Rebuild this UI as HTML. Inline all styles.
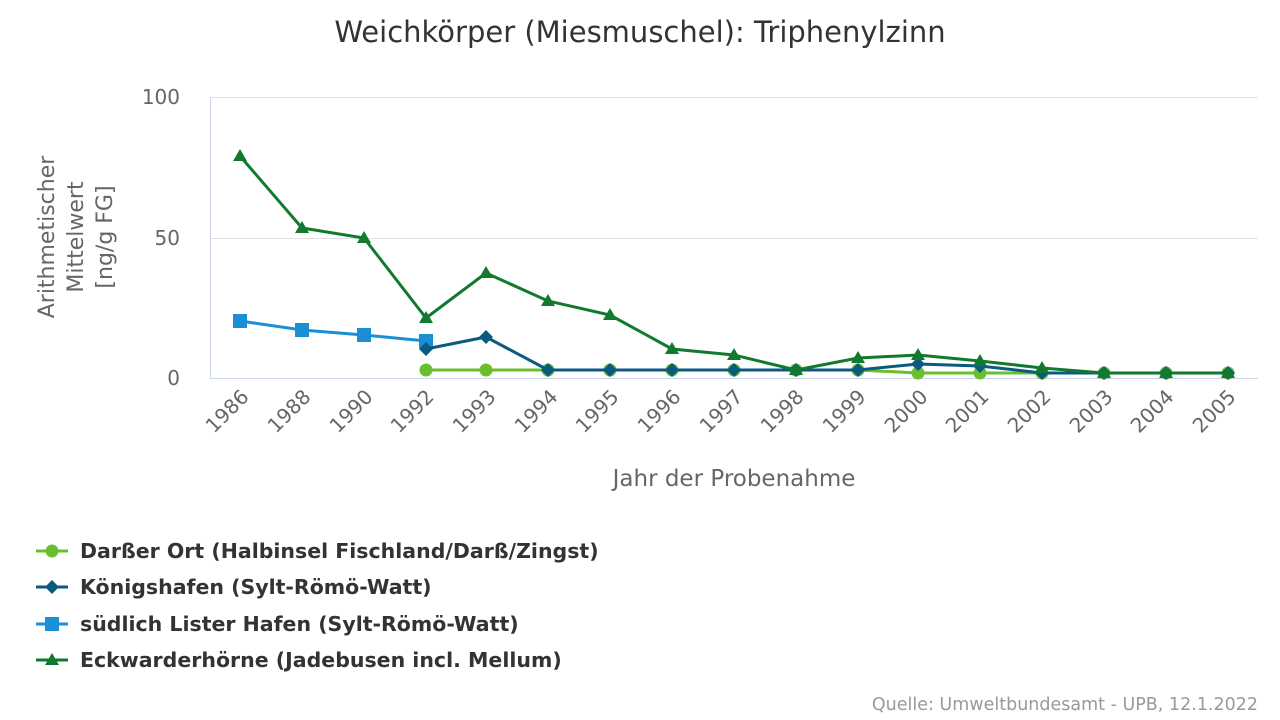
<!DOCTYPE html>
<html><head><meta charset="utf-8"><style>
body{margin:0;background:#fff;}
svg{display:block;font-family:"DejaVu Sans","Liberation Sans",sans-serif;}
</style></head><body>
<svg width="1280" height="720" viewBox="0 0 1280 720" xmlns="http://www.w3.org/2000/svg">
<text x="640" y="42" text-anchor="middle" font-size="29" fill="#333">Weichkörper (Miesmuschel): Triphenylzinn</text>
<g stroke="#e0e0e0" stroke-width="1">
<line x1="210" y1="97.5" x2="1258" y2="97.5"/>
<line x1="210" y1="238.5" x2="1258" y2="238.5"/>
</g>
<line x1="210" y1="378.5" x2="1258" y2="378.5" stroke="#ccd6eb"/>
<line x1="210.5" y1="97" x2="210.5" y2="378" stroke="#ccd6eb"/>
<g font-size="20" fill="#666" text-anchor="end">
<text x="180" y="104">100</text>
<text x="180" y="245">50</text>
<text x="180" y="385">0</text>
</g>
<g font-size="22" fill="#666" text-anchor="middle" transform="rotate(-90)">
<text x="-237" y="54">Arithmetischer</text>
<text x="-237" y="83">Mittelwert</text>
<text x="-237" y="112">[ng/g FG]</text>
</g>
<g font-size="20" fill="#666" text-anchor="end">
<text transform="translate(250,398) rotate(-45)">1986</text>
<text transform="translate(312,398) rotate(-45)">1988</text>
<text transform="translate(374,398) rotate(-45)">1990</text>
<text transform="translate(435,398) rotate(-45)">1992</text>
<text transform="translate(497,398) rotate(-45)">1993</text>
<text transform="translate(559,398) rotate(-45)">1994</text>
<text transform="translate(620,398) rotate(-45)">1995</text>
<text transform="translate(682,398) rotate(-45)">1996</text>
<text transform="translate(744,398) rotate(-45)">1997</text>
<text transform="translate(805,398) rotate(-45)">1998</text>
<text transform="translate(867,398) rotate(-45)">1999</text>
<text transform="translate(929,398) rotate(-45)">2000</text>
<text transform="translate(990,398) rotate(-45)">2001</text>
<text transform="translate(1052,398) rotate(-45)">2002</text>
<text transform="translate(1114,398) rotate(-45)">2003</text>
<text transform="translate(1175,398) rotate(-45)">2004</text>
<text transform="translate(1237,398) rotate(-45)">2005</text>
</g>
<text x="734" y="486" text-anchor="middle" font-size="23" fill="#666">Jahr der Probenahme</text>

<polyline fill="none" stroke="#6abf2e" stroke-width="3" points="426,370 486,370 548,370 610,370 672,370 734,370 796,370 858,370 918,373 980,373 1042,373 1104,373 1166,373 1228,373"/>
<g fill="#6abf2e">
<circle cx="426" cy="370" r="6.5"/><circle cx="486" cy="370" r="6.5"/><circle cx="548" cy="370" r="6.5"/><circle cx="610" cy="370" r="6.5"/><circle cx="672" cy="370" r="6.5"/><circle cx="734" cy="370" r="6.5"/><circle cx="796" cy="370" r="6.5"/><circle cx="858" cy="370" r="6.5"/><circle cx="918" cy="373" r="6.5"/><circle cx="980" cy="373" r="6.5"/><circle cx="1042" cy="373" r="6.5"/><circle cx="1104" cy="373" r="6.5"/><circle cx="1166" cy="373" r="6.5"/><circle cx="1228" cy="373" r="6.5"/>
</g>
<polyline fill="none" stroke="#1a8fd6" stroke-width="3" points="240,321 302,330 364,335 426,341"/>
<g fill="#1a8fd6">
<rect x="233" y="314" width="14" height="14"/><rect x="295" y="323" width="14" height="14"/><rect x="357" y="328" width="14" height="14"/><rect x="419" y="334" width="14" height="14"/>
</g>
<polyline fill="none" stroke="#0b5a80" stroke-width="3" points="426,349 486,337 548,370 610,370 672,370 734,370 796,370 858,370 918,364 980,366 1042,373 1104,373 1166,373 1228,373"/>
<g fill="#0b5a80">
<path d="M426 342l7 7-7 7-7-7z"/><path d="M486 330l7 7-7 7-7-7z"/><path d="M548 363l7 7-7 7-7-7z"/><path d="M610 363l7 7-7 7-7-7z"/><path d="M672 363l7 7-7 7-7-7z"/><path d="M734 363l7 7-7 7-7-7z"/><path d="M796 363l7 7-7 7-7-7z"/><path d="M858 363l7 7-7 7-7-7z"/><path d="M918 357l7 7-7 7-7-7z"/><path d="M980 359l7 7-7 7-7-7z"/><path d="M1042 366l7 7-7 7-7-7z"/><path d="M1104 366l7 7-7 7-7-7z"/><path d="M1166 366l7 7-7 7-7-7z"/><path d="M1228 366l7 7-7 7-7-7z"/>
</g>
<polyline fill="none" stroke="#117a2e" stroke-width="3" points="240,156 302,228 364,238 426,318 486,273 548,301 610,315 672,349 734,355 796,370 858,358 918,355 980,361 1042,368 1104,373 1166,373 1228,373"/>
<g fill="#117a2e">
<path d="M240 149l7 12h-14z"/><path d="M302 221l7 12h-14z"/><path d="M364 231l7 12h-14z"/><path d="M426 311l7 12h-14z"/><path d="M486 266l7 12h-14z"/><path d="M548 294l7 12h-14z"/><path d="M610 308l7 12h-14z"/><path d="M672 342l7 12h-14z"/><path d="M734 348l7 12h-14z"/><path d="M796 363l7 12h-14z"/><path d="M858 351l7 12h-14z"/><path d="M918 348l7 12h-14z"/><path d="M980 354l7 12h-14z"/><path d="M1042 361l7 12h-14z"/><path d="M1104 366l7 12h-14z"/><path d="M1166 366l7 12h-14z"/><path d="M1228 366l7 12h-14z"/>
</g>

<g font-size="20.5" font-weight="bold" fill="#333">
<line x1="36" y1="551" x2="68" y2="551" stroke="#6abf2e" stroke-width="3"/><circle cx="52" cy="551" r="6.5" fill="#6abf2e"/>
<text x="80" y="558">Darßer Ort (Halbinsel Fischland/Darß/Zingst)</text>
<line x1="36" y1="587" x2="68" y2="587" stroke="#0b5a80" stroke-width="3"/><path d="M52 580l7 7-7 7-7-7z" fill="#0b5a80"/>
<text x="80" y="594">Königshafen (Sylt-Römö-Watt)</text>
<line x1="36" y1="624" x2="68" y2="624" stroke="#1a8fd6" stroke-width="3"/><rect x="45" y="617" width="14" height="14" fill="#1a8fd6"/>
<text x="80" y="631">südlich Lister Hafen (Sylt-Römö-Watt)</text>
<line x1="36" y1="660" x2="68" y2="660" stroke="#117a2e" stroke-width="3"/><path d="M52 653l7 12h-14z" fill="#117a2e"/>
<text x="80" y="667">Eckwarderhörne (Jadebusen incl. Mellum)</text>
</g>
<text x="1258" y="710" text-anchor="end" font-size="17.5" fill="#999">Quelle: Umweltbundesamt - UPB, 12.1.2022</text>
</svg>
</body></html>
